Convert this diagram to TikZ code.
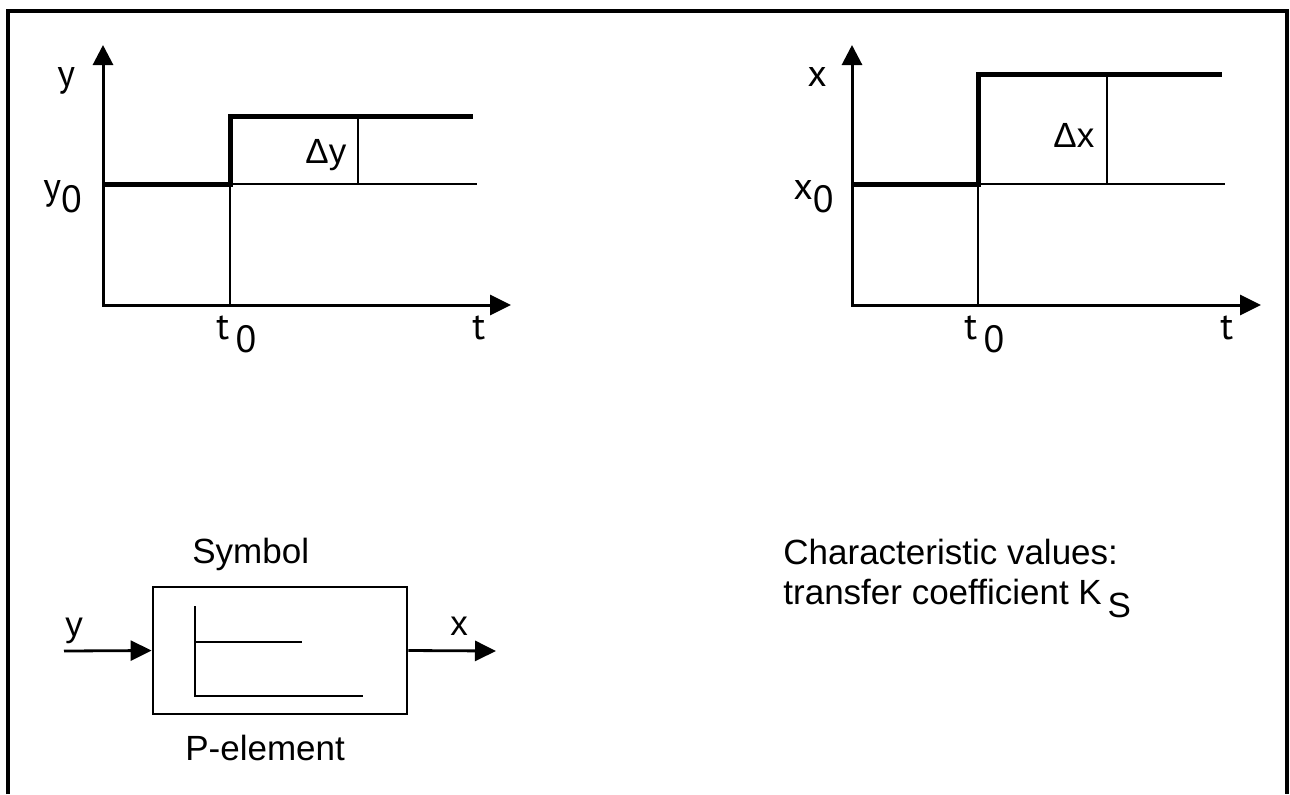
\documentclass[tikz,border=0pt]{standalone}
\usepackage{fontspec}
\setmainfont{Liberation Sans}
\newfontfamily\axisfont{PT Sans}
\usetikzlibrary{arrows.meta,positioning}
\tikzset{
  axes/.style={line width=1.5pt,{Triangle[length=10pt,width=10pt]}-{Triangle[length=10.5pt,width=10pt]}},
  sig/.style={line width=1.4pt,-{Triangle[length=10.5pt,width=10pt]}},
  thinline/.style={line width=0.7pt},
  stepline/.style={line width=2.5pt},
  lbl/.style={inner sep=0pt,anchor=base west,font=\axisfont\fontsize{19}{22}\selectfont},
  txt/.style={inner sep=0pt,anchor=base west,font=\fontsize{17.5}{21}\selectfont},
}
\newcommand{\dn}[1]{\raisebox{-6.5pt}{#1}}
\begin{document}
\begin{tikzpicture}[x=0.5pt,y=-0.5pt]
\useasboundingbox (0,0) rectangle (1290,794);
\draw[line width=2pt] (8,794) -- (8,11) -- (1287,11) -- (1287,794); %frame

% step of y
\coordinate (yorig) at (103,305);
\draw[axes] (103,45) -- (yorig) -- (511,305);
\draw[thinline] (230,184) -- (230,305);
\draw[thinline] (230,184) -- (477,184);
\draw[thinline] (358,116) -- (358,184);
\draw[stepline] (103,184) -- (230,184) -- (230,116) -- (473,116);
\node[lbl] (ylab) at (57,86) {y};
\node[lbl] (y0lab) at (43,199) {y\dn{0}};
\node[lbl] (t0y) at (216,339) {t\,\dn{0}};
\node[lbl] (ty) at (472,339) {t};
\node[txt] (dy) at (305,163) {Δy};

% step of x
\coordinate (xorig) at (852,305);
\draw[axes] (852,45) -- (xorig) -- (1261,305);
\draw[thinline] (978,184) -- (978,305);
\draw[thinline] (978,184) -- (1225,184);
\draw[thinline] (1107,74) -- (1107,184);
\draw[stepline] (852,184) -- (978,184) -- (978,74) -- (1222,74);
\node[lbl] (xlab) at (807,86) {x};
\node[lbl] (x0lab) at (793,199) {x\dn{0}};
\node[lbl] (t0x) at (964,339) {t\,\dn{0}};
\node[lbl] (tx) at (1220,339) {t};
\node[txt] (dx) at (1053,147) {Δx};

% symbol
\node[txt] (symtitle) at (192,563) {Symbol};
\node[draw,line width=1.4pt,minimum width=127pt,minimum height=63.5pt,inner sep=0pt] (pbox) at (280,650.5) {};
\draw[line width=1.4pt] (195,606) -- (195,696) -- (363,696);
\draw[line width=1.4pt] (195,642) -- (302,642);
\coordinate (yin) at (64,651);
\coordinate (xout) at (496,651);
\draw[sig] (yin) -- (pbox.west);
\draw[sig] (pbox.east) -- (xout);
\node[txt] (yinlab) at (65,636) {y};
\node[txt] (xoutlab) at (450,635) {x};
\node[txt] (pname) at (185,760) {P-element};

% values
\node[txt] (char1) at (783,564) {Characteristic values:};
\node[txt] (char2) at (783,604) {transfer coefficient K\,\dn{S}};
\end{tikzpicture}
\end{document}
